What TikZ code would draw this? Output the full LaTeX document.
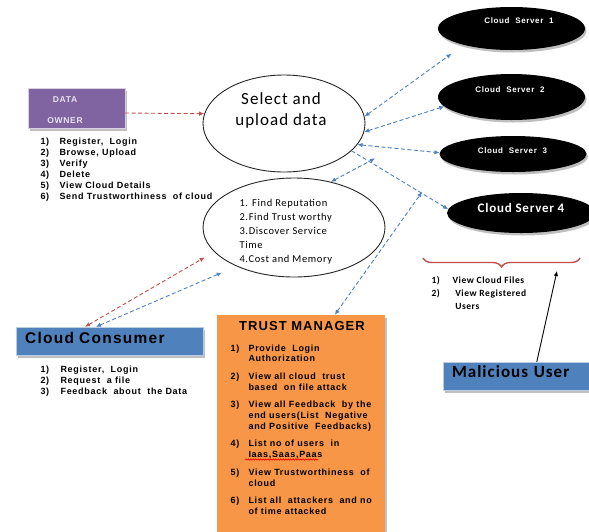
\documentclass[tikz,border=0pt]{standalone}
\usepackage{fontspec}
\setmainfont{Liberation Sans}
\newfontfamily\listfont[LetterSpace=8]{Liberation Sans}
\newfontfamily\calwide[LetterSpace=6]{Carlito}
\usetikzlibrary{arrows.meta,shapes.geometric,shadows,decorations.pathreplacing,decorations.pathmorphing}
\definecolor{ownerpurple}{RGB}{128,100,162}
\definecolor{ownertext}{RGB}{232,226,240}
\definecolor{boxblue}{RGB}{79,129,189}
\definecolor{tmorange}{RGB}{247,150,70}
\definecolor{linkblue}{RGB}{79,129,189}
\definecolor{linkred}{RGB}{192,80,77}

\begin{document}
\begin{tikzpicture}[x=1pt,y=-1pt,>={Latex[length=5pt,width=4.5pt]},
  bluelink/.style={linkblue,line width=0.9pt,dash pattern=on 4pt off 2.5pt},
  redlink/.style={linkred,line width=0.9pt,dash pattern=on 4pt off 2.5pt},
  bubble/.style={ellipse,draw=black!85,line width=0.9pt,inner sep=0pt},
  server/.style={ellipse,fill=black,inner sep=0pt,minimum width=147pt,
    drop shadow={shadow xshift=1.5pt,shadow yshift=-2.5pt,fill=black!25,opacity=1}},
  servertext/.style={anchor=base,text=white,font=\listfont\bfseries\fontsize{8}{10}\selectfont},
  panel/.style={rectangle,inner sep=0pt,
    drop shadow={shadow xshift=2pt,shadow yshift=-2.5pt,fill=black!25,opacity=1}},
  listtext/.style={anchor=base west,font=\listfont\bfseries\fontsize{9}{11}\selectfont}]

  \useasboundingbox [fill=white] (0,0) rectangle (589,531);

  \node [panel,fill=ownerpurple,draw=white!70!ownerpurple,minimum width=97pt,minimum height=40pt] (owner) at (76.5,108) {};
  \node [anchor=base,text=ownertext,font=\listfont\bfseries\fontsize{8.5}{21}\selectfont] (ownertxt) at (65,102)
    {\begin{tabular}[t]{@{}c@{}}DATA\\OWNER\end{tabular}};
  \node [listtext] (ownerlist) at (37,144) {\begin{tabular}[t]{@{}p{19pt}@{}l@{}}
    1) & Register,\ \ Login\\
    2) & Browse, Upload\\
    3) & Verify\\
    4) & Delete\\
    5) & View Cloud Details\\
    6) & Send Trustworthiness\ \ of cloud
  \end{tabular}};

  \node [bubble,minimum width=162pt,minimum height=97pt] (select) at (284,123.5) {};
  \node [anchor=base,font=\calwide\fontsize{17}{21}\selectfont] (selecttxt) at (281,104)
    {\begin{tabular}[t]{@{}c@{}}Select and\\upload data\end{tabular}};
  \node [bubble,minimum width=182pt,minimum height=99pt] (reput) at (294,227.5) {};
  \node [anchor=base west,font=\calwide\fontsize{10.5}{14}\selectfont] (reputtxt) at (236,206)
    {\begin{tabular}[t]{@{}l@{}}1. Find Reputation\\2.Find Trust worthy\\3.Discover Service\\Time\\4.Cost and Memory\end{tabular}};

  \node [server,minimum height=43pt] (cs1) at (511.5,28.5) {};
  \node [server,minimum height=46pt] (cs2) at (511.5,97) {};
  \node [server,minimum height=36pt] (cs3) at (513,154) {};
  \node [server,minimum height=40pt,minimum width=148pt] (cs4) at (521,213) {};
  \node [servertext] (cs1txt) at (519,23) {Cloud\ \ Server\ \ 1};
  \node [servertext] (cs2txt) at (510,92) {Cloud\ \ Server\ \ 2};
  \node [servertext] (cs3txt) at (512.5,153) {Cloud\ \ Server\ \ 3};
  \node [servertext,font=\calwide\bfseries\fontsize{13}{15}\selectfont] (cs4txt) at (521,212) {Cloud Server 4};

  \draw [linkred,line width=1.4pt,decorate,decoration={brace,mirror,amplitude=9pt}] (423,258) -- (580,258);
  \node [anchor=base west,font=\calwide\bfseries\fontsize{9.5}{13}\selectfont] (malilist) at (428,283)
    {\begin{tabular}[t]{@{}p{21pt}@{}l@{}}1) & View Cloud\ Files\\2) & \ View Registered\\ & \ Users\end{tabular}};

  \node [panel,fill=boxblue,draw=white!60!boxblue,minimum height=28pt,text width=132pt,inner xsep=9pt,align=left,
    text height=11pt,text depth=7.6pt,font=\calwide\bfseries\fontsize{17}{20}\selectfont] (malicious) at (518,376) {Malicious User};

  \node [panel,fill=boxblue,draw=white!60!boxblue,minimum height=28pt,text width=169pt,inner xsep=9pt,align=left,
    text height=11pt,text depth=6.4pt,font=\listfont\bfseries\fontsize{15.5}{18}\selectfont] (consumer) at (109.7,341) {Cloud Consumer};
  \node [listtext] (consumerlist) at (37,372) {\begin{tabular}[t]{@{}p{20pt}@{}l@{}}
    1) & Register,\ \ Login\\
    2) & Request\ \ a file\\
    3) & Feedback\ \ about\ \ the Data
  \end{tabular}};

  \node [panel,fill=tmorange,minimum width=168pt,minimum height=220pt] (trust) at (301,425) {};
  \node [anchor=base,font=\listfont\bfseries\fontsize{13}{15}\selectfont] (trusttitle) at (302,330) {TRUST MANAGER};
  \node [listtext,font=\listfont\bfseries\fontsize{9}{10.7}\selectfont] (trustlist) at (227,351) {\begin{tabular}[t]{@{}p{18pt}@{}l@{}}
    1) & Provide\ \ Login\\
       & Authorization\\[7pt]
    2) & View all cloud\ \ trust\\
       & based\ \ on file attack\\[7pt]
    3) & View all Feedback\ \ by the\\
       & end users(List\ \ Negative\\
       & and Positive\ \ Feedbacks)\\[7pt]
    4) & List no of users\ \ in\\
       & Iaas,Saas,Paas\\[7pt]
    5) & View Trustworthiness\ \ of\\
       & cloud\\[7pt]
    6) & List all\ \ attackers\ \ and no\\
       & of time attacked
  \end{tabular}};
  \draw [red,line width=0.6pt,decorate,decoration={snake,amplitude=0.7pt,segment length=2.5pt}] (245,459.5) -- (318,459.5);

  \coordinate (upper) at (375,158.3);
  \coordinate (crossing) at (422,192);
  \coordinate (bracetip) at (557,271);

  \draw [redlink,->] ([yshift=-5pt]owner.east) -- (select.173);
  \draw [redlink,<->,shorten >=11pt] ([xshift=69pt]consumer.north west) -- (reput.197);
  \draw [bluelink,<->,shorten >=16pt] ([xshift=80pt]consumer.north west) -- (reput.214);
  \draw [bluelink,<->,shorten >=15pt] (select.5) -- (cs1.199);
  \draw [bluelink,<->] (select.354) -- (cs2.188);
  \draw [bluelink,<->] (select.344) -- (cs3.179);
  \draw [bluelink,->] (select.338) -- (cs4.177);
  \draw [bluelink,<->] (reput.51) -- (upper);
  \draw [bluelink,<->] ([xshift=118pt]trust.north west) -- (crossing);
  \draw [line width=0.9pt,->] ([xshift=94pt]malicious.north west) -- (bracetip);
\end{tikzpicture}
\end{document}
